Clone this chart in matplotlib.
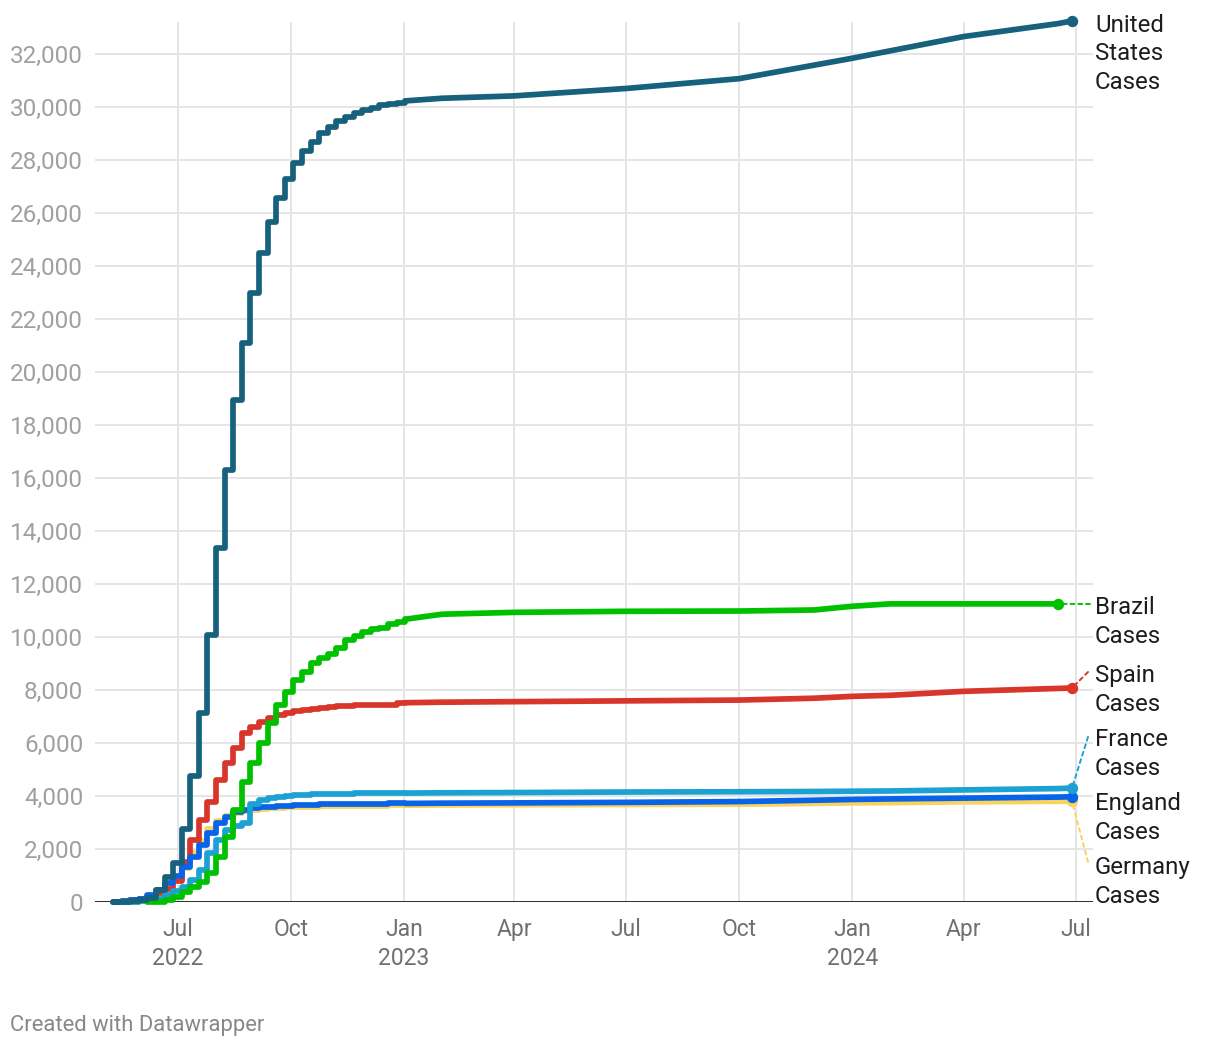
import numpy as np
import matplotlib.pyplot as plt
import pandas as pd
from matplotlib.ticker import FuncFormatter

plt.rcParams['font.family'] = ['Roboto', 'DejaVu Sans']

nan = np.nan

# weekly reports (Mondays) during the 2022 wave
weeks = pd.to_datetime([
    "2022-05-09", "2022-05-16", "2022-05-23", "2022-05-30",
    "2022-06-06", "2022-06-13", "2022-06-20", "2022-06-27",
    "2022-07-04", "2022-07-11", "2022-07-18", "2022-07-25",
    "2022-08-01", "2022-08-08", "2022-08-15", "2022-08-22", "2022-08-29",
    "2022-09-05", "2022-09-12", "2022-09-19", "2022-09-26",
    "2022-10-03", "2022-10-10", "2022-10-17", "2022-10-24", "2022-10-31",
    "2022-11-07", "2022-11-14", "2022-11-21", "2022-11-28",
    "2022-12-05", "2022-12-12", "2022-12-19", "2022-12-26",
    "2023-01-02"])

# sparser readings for the plateau
later = pd.to_datetime([
    "2023-01-02", "2023-02-01", "2023-04-01", "2023-07-01", "2023-10-01",
    "2023-12-01", "2024-01-01", "2024-02-01", "2024-04-01", "2024-06-17",
    "2024-06-28"])

us_weekly = [0, 10, 30, 70, 150, 450, 940, 1470, 2770, 4750, 7130, 10080,
             13360, 16300, 18960, 21100, 22990, 24490, 25660, 26570, 27280,
             27880, 28340, 28680, 29020, 29250, 29470, 29630, 29770, 29890,
             29980, 30060, 30120, 30170, 30230]
us_later = [30230, 30330, 30420, 30700, 31070, 31580, 31840, 32120, 32660,
            33150, 33250]

brazil_weekly = [nan, nan, nan, nan, 0, 10, 75, 200, 390, 580, 770, 1080,
                 1710, 2460, 3470, 4540, 5250, 6000, 6750, 7430, 7940,
                 8380, 8690, 9030, 9220, 9360, 9580, 9890, 10040, 10200,
                 10290, 10330, 10490, 10580, 10670]
brazil_later = [10670, 10860, 10930, 10970, 10980, 11020, 11160, 11250,
                11250, 11250, nan]

spain_weekly = [0, 20, 60, 120, 200, 330, 500, 800, 1500, 2330, 3090, 3790,
                4600, 5230, 5800, 6380, 6620, 6800, 6930, 7040, 7120,
                7200, 7240, 7280, 7310, 7340, 7380, 7410, 7420, 7430,
                7430, 7440, 7440, 7520, 7520]
spain_later = [7520, 7540, 7560, 7590, 7620, 7690, 7760, 7800, 7950, 8060,
               8075]

france_weekly = [nan, 0, 10, 30, 60, 130, 260, 400, 560, 830, 1210, 1840,
                 2340, 2700, 2880, 2980, 3700, 3850, 3920, 3960, 3990,
                 4020, 4040, 4060, 4070, 4080, 4090, 4090, 4100, 4100,
                 4100, 4110, 4110, 4110, 4110]
france_later = [4110, 4120, 4130, 4150, 4160, 4170, 4180, 4190, 4230, 4280,
                4300]

england_weekly = [0, 20, 60, 120, 250, 450, 700, 1000, 1330, 1710, 2150, 2590,
                  2970, 3220, 3380, 3470, 3530, 3570, 3600, 3620, 3640,
                  3650, 3660, 3670, 3680, 3690, 3690, 3700, 3700, 3700,
                  3710, 3710, 3720, 3720, 3720]
england_later = [3720, 3730, 3740, 3760, 3790, 3840, 3870, 3890, 3920, 3960,
                 3970]

germany_weekly = [nan, nan, 0, 40, 100, 250, 500, 850, 1300, 1850, 2300, 2750,
                  3050, 3250, 3350, 3420, 3460, 3500, 3530, 3550, 3570,
                  3580, 3590, 3600, 3610, 3620, 3620, 3630, 3630, 3640,
                  3640, 3640, 3650, 3650, 3650]
germany_later = [3650, 3660, 3670, 3680, 3690, 3720, 3740, 3750, 3780, 3800,
                 3800]

# drawn bottom to top
series = [
    ("Germany", germany_weekly, germany_later, "#f9d35e"),
    ("Spain", spain_weekly, spain_later, "#d8362b"),
    ("England", england_weekly, england_later, "#0763e8"),
    ("France", france_weekly, france_later, "#1ba2d2"),
    ("Brazil", brazil_weekly, brazil_later, "#00c100"),
    ("United States", us_weekly, us_later, "#17617c"),
]

tick_dates = pd.to_datetime(["2022-07-01", "2022-10-01", "2023-01-01",
                             "2023-04-01", "2023-07-01", "2023-10-01",
                             "2024-01-01", "2024-04-01", "2024-07-01"])
tick_labels = ["Jul\n2022", "Oct", "Jan\n2023", "Apr", "Jul", "Oct",
               "Jan\n2024", "Apr", "Jul"]

W, H = 1220, 1048
fig = plt.figure(figsize=(W / 100, H / 100), dpi=100)
ax = fig.add_axes([95 / W, (H - 902) / H, 998 / W, 880 / H])

for name, wk, lt, col in series:
    ax.plot(weeks, wk, drawstyle="steps-post", color=col, lw=4.1,
            solid_capstyle="round", solid_joinstyle="round", clip_on=False,
            zorder=3)
    ax.plot(later, lt, color=col, lw=4.1, solid_capstyle="round",
            solid_joinstyle="round", clip_on=False, zorder=3)
    s = pd.Series(lt, index=later).dropna()
    ax.plot(s.index[-1], s.iloc[-1], "o", ms=7.2, color=col, clip_on=False,
            zorder=4)

base = pd.Timestamp("2022-07-01")
ax.set_xlim(base - pd.Timedelta(days=67.6), base + pd.Timedelta(days=745.1))
ax.set_ylim(0, 33208)

ax.set_yticks(range(0, 32001, 2000))
ax.yaxis.set_major_formatter(FuncFormatter(lambda v, p: f"{v:,.0f}"))
ax.set_xticks(tick_dates)
ax.set_xticklabels(tick_labels)
ax.tick_params(axis="y", length=0, pad=8.5, labelsize=17.5, labelcolor="#a0a0a0")
ax.tick_params(axis="x", length=0, pad=11.5, labelsize=16.5, labelcolor="#707070")
for lab in ax.get_xticklabels():
    lab.set_linespacing(1.34)

ax.grid(True, color="#e5e5e5", lw=1.4, zorder=0)
ax.axhline(0, color="#1a1a1a", lw=2, zorder=2)
for sp in ax.spines.values():
    sp.set_visible(False)

# right-hand labels (image pixel y of block centre)
labels = [("United\nStates\nCases", 54), ("Brazil\nCases", 622),
          ("Spain\nCases", 690), ("France\nCases", 754),
          ("England\nCases", 818), ("Germany\nCases", 882)]
for txt, yc in labels:
    fig.text(1095 / W, 1 - yc / H, txt, ha="left", va="center",
             fontsize=17.3, color="#1d1d1d", linespacing=1.32)

# dotted connectors from end dot to label
connectors = [(brazil_later, "#00c100", 1090, 604),
              (spain_later, "#d8362b", 1088, 672),
              (france_later, "#1ba2d2", 1088, 737),
              (germany_later, "#f9d35e", 1088, 862)]
for vals, col, px, py in connectors:
    s = pd.Series(vals, index=later).dropna()
    ax.annotate("", xy=(s.index[-1], s.iloc[-1]), xycoords="data",
                xytext=(px, H - py), textcoords="figure pixels",
                arrowprops=dict(arrowstyle="-", color=col, lw=1.4,
                                linestyle=(0, (2, 2)), shrinkA=0, shrinkB=0),
                annotation_clip=False)

fig.text(10 / W, 1 - 1025 / H, "Created with Datawrapper", ha="left",
         va="center", fontsize=15.8, color="#888888")

fig.savefig("out.png", dpi=100)
